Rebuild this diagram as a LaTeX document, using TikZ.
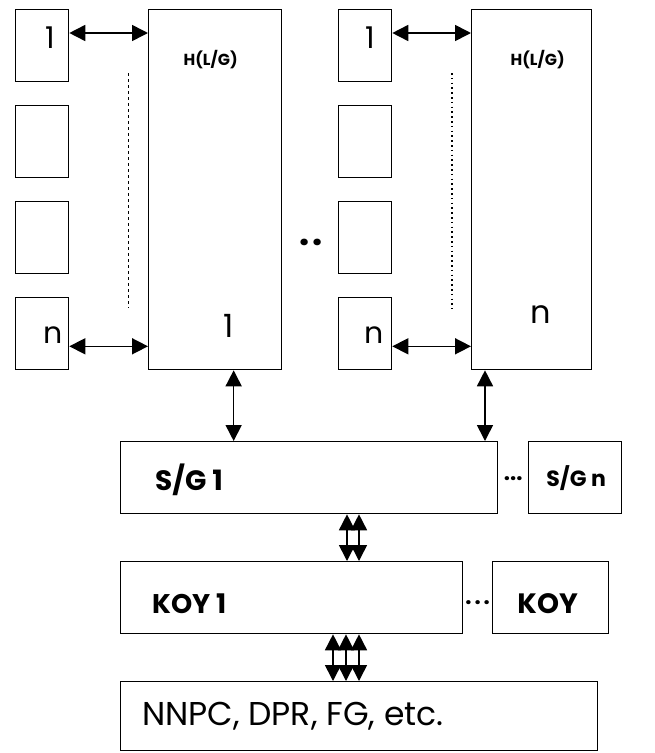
\documentclass[tikz,border=0pt]{standalone}
\usepackage{fontspec}
\setmainfont{Poppins}
\usetikzlibrary{arrows.meta,calc,positioning}

\begin{document}
\begin{tikzpicture}[
    x=1pt, y=-1pt,
    slot/.style={draw, line width=1.3pt, minimum width=53pt, minimum height=72pt, inner sep=0pt, anchor=north west},
    host/.style={draw, line width=1.3pt, minimum width=#1, minimum height=360pt, inner sep=0pt, anchor=north west},
    bar/.style={draw, line width=1.3pt, minimum width=#1, minimum height=72pt, inner sep=0pt, anchor=north west},
    link/.style={{Triangle[length=16pt,width=16pt]}-{Triangle[length=16pt,width=16pt]}, line width=1.6pt},
    tag/.style={font=\bfseries\fontsize{#1}{#1}\selectfont, inner sep=0pt},
    num/.style={font=\fontsize{#1}{#1}\selectfont, inner sep=0pt},
    num/.default=30
]
\useasboundingbox (0,0) rectangle (654,753);

% left host group
\node[slot] (la1) at (15,9) {};
\node[slot] (la2) at (15,105) {};
\node[slot] (la3) at (15,201) {};
\node[slot] (la4) at (15,297) {};
\node[host=133pt] (h1) at (148,9) {};

\node[num] at ($(la1.center)+(8.5,-8)$) {1};
\node[num] at ($(la4.center)+(10.5,1)$) {n};
\node[tag=16] at ($(h1.north)+(-4.5,51)$) {H(L/G)};
\node[num=32] at ($(h1.south)+(13.5,-44)$) {1};

\draw[link] ($(la1.north east)+(0,24)$) coordinate (p1) -- (p1 -| h1.west);
\draw[link] ($(la4.south east)+(0,-24)$) coordinate (p2) -- (p2 -| h1.west);
\draw[line width=0.8pt, dash pattern=on 3pt off 3pt] ($(h1.north west)+(-20,64)$) -- ($(h1.south west)+(-20,-62)$);

% right host group
\node[slot] (ra1) at (338,9) {};
\node[slot] (ra2) at (338,105) {};
\node[slot] (ra3) at (338,201) {};
\node[slot] (ra4) at (338,297) {};
\node[host=120pt] (h2) at (471,9) {};

\node[num] at ($(ra1.center)+(5.5,-8)$) {1};
\node[num] at ($(ra4.center)+(8.5,1)$) {n};
\node[tag=16] at ($(h2.north)+(6,51)$) {H(L/G)};
\node[num=32] at ($(h2.south)+(9,-56)$) {n};

\draw[link] ($(ra1.north east)+(0,24)$) coordinate (q1) -- (q1 -| h2.west);
\draw[link] ($(ra4.south east)+(0,-24)$) coordinate (q2) -- (q2 -| h2.west);
\draw[line width=1.6pt, dash pattern=on 1.6pt off 3.2pt] ($(h2.north west)+(-19,64)$) -- ($(h2.south west)+(-19,-62)$);

\node[tag=36] (gap) at (311,242) {.\kern3pt.};

% sessions / grid row
\node[bar=377pt] (sg1) at (120,441) {};
\node[bar=93pt] (sgn) at (528,441) {};
\node[tag=28, anchor=west] at ($(sg1.west)+(35,2)$) {S/G 1};
\node[tag=22] at ($(sgn.center)+(1,0)$) {S/G n};
\node[tag=22] at ($(sg1.east)!0.5!(sgn.west)+(0,1)$) {...};

\draw[link] ($(h1.south)+(18.5,0)$) coordinate (d1) -- (d1 |- sg1.north);
\draw[link] ($(h2.south west)+(14,0)$) coordinate (d2) -- (d2 |- sg1.north);

% KOY row
\node[bar=342pt] (koy1) at (120,561) {};
\node[bar=116pt] (koyn) at (492,561) {};
\node[tag=27, anchor=west] at ($(koy1.west)+(32,6)$) {KOY 1};
\node[tag=28] at ($(koyn.center)+(-3,6)$) {KOY};
\node[tag=22] at ($(koy1.east)!0.5!(koyn.west)+(0,5)$) {.\kern3pt.\kern3pt.};

\draw[link] ($(sg1.south west)+(227,0)$) coordinate (e1) -- (e1 |- koy1.north);
\draw[link] ($(sg1.south west)+(239,0)$) coordinate (e2) -- (e2 |- koy1.north);

% agencies
\node[draw, line width=1.3pt, minimum width=477pt, minimum height=69pt, inner sep=0pt, anchor=north west] (agency) at (120,681) {};
\node[num=33, anchor=west] at ($(agency.west)+(22,0)$) {NNPC, DPR, FG, etc.};

\draw[link] ($(koy1.south west)+(213,0)$) coordinate (f1) -- (f1 |- agency.north);
\draw[link] ($(koy1.south west)+(226,0)$) coordinate (f2) -- (f2 |- agency.north);
\draw[link] ($(koy1.south west)+(239,0)$) coordinate (f3) -- (f3 |- agency.north);

\end{tikzpicture}
\end{document}
